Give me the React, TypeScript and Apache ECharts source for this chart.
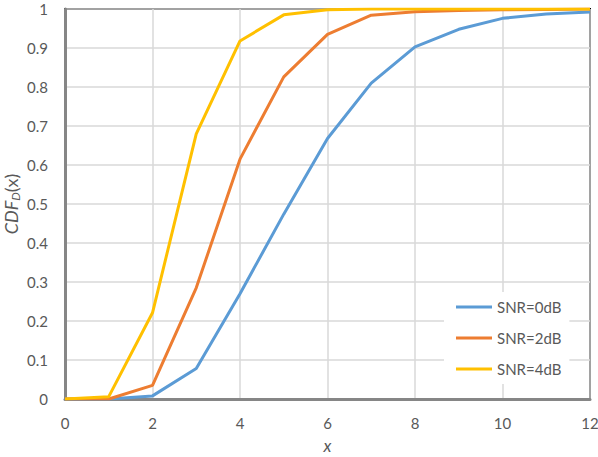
import React, { useEffect, useRef } from "react";
import * as echarts from "echarts";

const xValues = [0, 1, 2, 3, 4, 5, 6, 7, 8, 9, 10, 11, 12];
const snr0 = [0, 0, 0.008, 0.078, 0.27, 0.474, 0.668, 0.81, 0.903, 0.948, 0.976, 0.987, 0.992];
const snr2 = [0, 0, 0.035, 0.285, 0.615, 0.826, 0.935, 0.984, 0.993, 0.996, 0.998, 0.999, 1];
const snr4 = [0, 0.006, 0.221, 0.68, 0.918, 0.985, 0.998, 1, 1, 1, 1, 1, 1];
const seriesNames = ["SNR=0dB", "SNR=2dB", "SNR=4dB"];
const colors = ["#5B9BD5", "#ED7D31", "#FFC000"];

const FONT = "Lato";

export default function App() {
  const ref = useRef<HTMLDivElement>(null);
  useEffect(() => {
    if (!ref.current) return;
    const chart = echarts.init(ref.current, null, { renderer: "svg" });
    const data = [snr0, snr2, snr4];
    chart.setOption({
      animation: false,
      backgroundColor: "#fff",
      grid: {
        left: 65,
        right: 8,
        top: 9,
        bottom: 58,
        show: true,
        borderColor: "#000",
        borderWidth: 2,
        outerBoundsMode: "none",
        containLabel: false,
      },
      legend: {
        orient: "vertical",
        left: 444,
        top: 292,
        icon: "rect",
        itemWidth: 36,
        itemHeight: 3,
        itemGap: 13,
        padding: [6, 8, 6, 12],
        backgroundColor: "#fff",
        data: seriesNames,
        textStyle: { fontFamily: FONT, fontSize: 15, color: "#595959", lineHeight: 18 },
      },
      xAxis: {
        type: "value",
        min: 0,
        max: 12,
        interval: 2,
        name: "x",
        nameLocation: "middle",
        nameGap: 38,
        nameMoveOverlap: false,
        nameTextStyle: { fontFamily: FONT, fontSize: 17, fontStyle: "italic", color: "#595959", lineHeight: 16 },
        axisLine: { show: true, lineStyle: { color: "#868686", width: 3 } },
        axisTick: { show: false },
        axisLabel: { fontFamily: FONT, fontSize: 15, color: "#595959", margin: 16, hideOverlap: false },
        splitLine: { show: true, lineStyle: { color: "#D9D9D9", width: 1.5 } },
      },
      yAxis: {
        type: "value",
        min: 0,
        max: 1,
        interval: 0.1,
        name: "{i|CDF}{sub|D}{n|(x)}",
        nameLocation: "middle",
        nameGap: 44,
        nameMoveOverlap: false,
        nameTextStyle: {
          color: "#595959",
          rich: {
            i: { fontFamily: FONT, fontSize: 18, fontStyle: "italic", color: "#595959", lineHeight: 20 },
            sub: { fontFamily: FONT, fontSize: 12, fontStyle: "italic", color: "#595959", lineHeight: 10, verticalAlign: "bottom" },
            n: { fontFamily: FONT, fontSize: 18, color: "#595959", lineHeight: 20 },
          },
        },
        axisLine: { show: true, lineStyle: { color: "#868686", width: 3 } },
        axisTick: { show: false },
        axisLabel: {
          fontFamily: FONT,
          fontSize: 15,
          color: "#595959",
          margin: 17,
          formatter: (v: number) => String(Math.round(v * 10) / 10),
        },
        splitLine: { show: true, lineStyle: { color: "#D9D9D9", width: 1.5 } },
      },
      series: data.map((d, i) => ({
        name: seriesNames[i],
        type: "line",
        data: xValues.map((x, j) => [x, d[j]]),
        symbol: "none",
        color: colors[i],
        lineStyle: { color: colors[i], width: 3 },
        z: 3 + i,
      })),
    });
    return () => chart.dispose();
  }, []);
  return <div ref={ref} style={{ position: "fixed", left: 0, top: 0, width: 598, height: 457 }} />;
}
